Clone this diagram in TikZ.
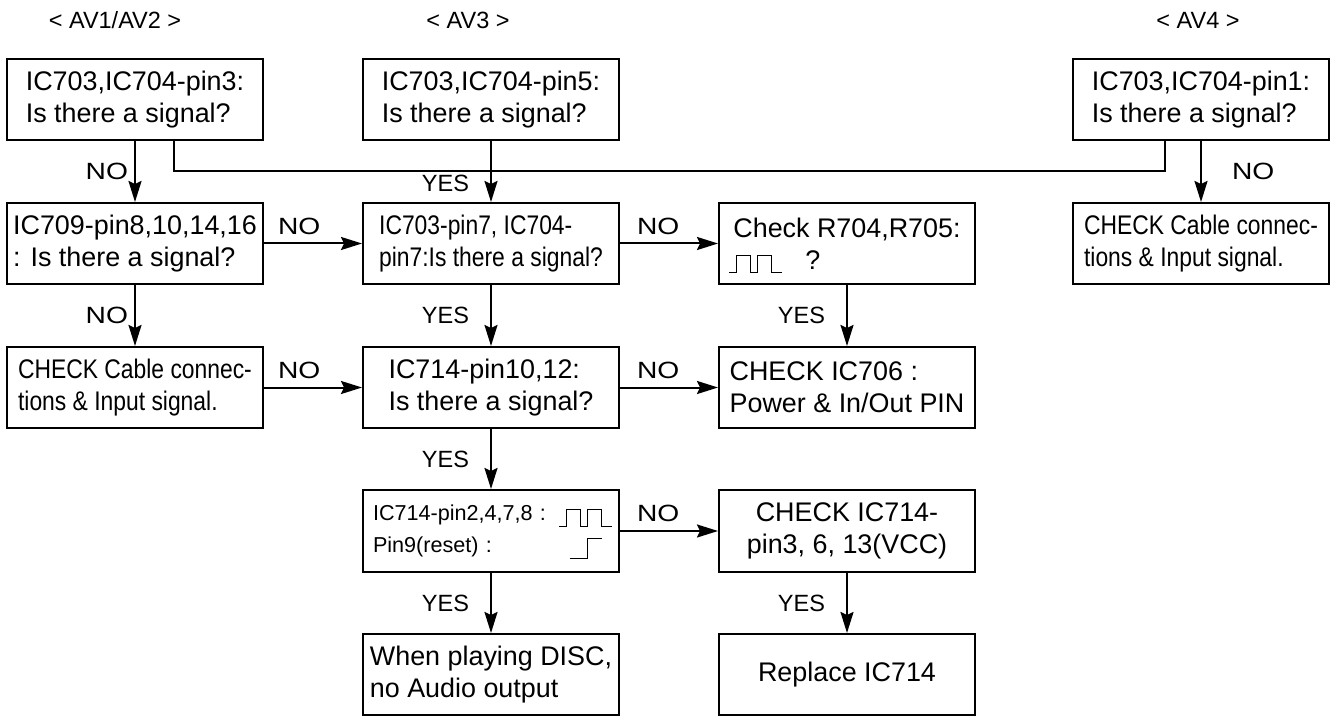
\documentclass[tikz,border=0pt]{standalone}
\usepackage{fontspec}
\setmainfont{Liberation Sans}
\newfontfamily\narrowfont[FakeStretch=0.85]{Liberation Sans}
\newfontfamily\widefont[FakeStretch=1.2]{Liberation Sans}
\usetikzlibrary{arrows.meta,positioning,calc}

% little pulse train, drawn from its lower left end
\newcommand\pulsetrain[1]{\draw[line width=0.5pt] (#1) -- ++(7,0) -- ++(0,-17) -- ++(14,0) -- ++(0,17) -- ++(7,0) -- ++(0,-17) -- ++(14,0) -- ++(0,17) -- ++(11,0);}

\begin{document}
\begin{tikzpicture}[x=0.5pt,y=-0.5pt,line width=1pt,
  >={Stealth[length=10.5pt,width=6.5pt,inset=1.5pt]},
  box/.style={draw,minimum width=128pt,minimum height=40.5pt,inner xsep=2pt,inner ysep=4pt,align=left,font=\fontsize{13.45pt}{16pt}\selectfont},
  narrow/.style={font=\narrowfont\fontsize{13.45pt}{16pt}\selectfont},
  lbl/.style={inner sep=2pt,font=\fontsize{11.75pt}{14pt}\selectfont},
  nofont/.style={lbl,font=\widefont\fontsize{11.75pt}{14pt}\selectfont},
  nolbl/.style={nofont,pos=0,anchor=south west,yshift=2pt}]
  \useasboundingbox (0,0) rectangle (1331,716);

  \node[lbl] (h1) at (115,20) {< AV1/AV2 >};
  \node[lbl] (h3) at (468,20) {< AV3 >};
  \node[lbl] (h4) at (1198,20) {< AV4 >};

  \node[box] (a1) at (135,99.5) {IC703,IC704-pin3:\\Is there a signal?};
  \node[box,right=49pt of a1] (a3) {IC703,IC704-pin5:\\Is there a signal?};
  \node[box,right=226pt of a3] (a4) {IC703,IC704-pin1:\\Is there a signal?};

  \node[box,below=30.5pt of a1] (b1) {IC709-pin8,10,14,16\\: Is there a signal?};
  \node[box,narrow,right=49pt of b1] (b2) {IC703-pin7, IC704-\\pin7:Is there a signal?};
  \node[box,right=49pt of b2] (b3) {Check R704,R705:\\\hspace*{36pt}?};
  \node[box,narrow,below=30.5pt of a4] (b4) {CHECK Cable connec-\\tions \& Input signal.};

  \node[box,narrow,below=30.5pt of b1] (c1) {CHECK Cable connec-\\tions \& Input signal.};
  \node[box,right=49pt of c1] (c2) {IC714-pin10,12:\\Is there a signal?};
  \node[box,right=49pt of c2] (c3) {CHECK IC706 :\\Power \& In/Out PIN};

  \node[box,below=30pt of c2,minimum height=41pt,text width=118pt,font=\fontsize{10.8pt}{16pt}\selectfont] (d2) {IC714-pin2,4,7,8 :\\Pin9(reset) :};
  \node[box,right=49pt of d2,minimum height=41pt,align=center] (d3) {CHECK IC714-\\pin3, 6, 13(VCC)};

  \node[box,below=30pt of d2] (e2) {When playing DISC,\\no Audio output};
  \node[box,below=30pt of d3] (e3) {Replace IC714};

  % waveforms
  \pulsetrain{$(b3.south west)+(11,-12)$}
  \pulsetrain{$(d2.south east)+(-61,-47)$}
  \draw[line width=0.5pt] ($(d2.south east)+(-50,-15)$) -- ++(17,0) -- ++(0,-20) -- ++(15,0);

  % AV1/AV2 and AV4 join the AV3 line
  \coordinate (bus) at ($(a3.south)!0.5!(b2.north)$);
  \coordinate (p1) at ($(a1.south west)!0.65!(a1.south east)$);
  \coordinate (p4) at ($(a4.south west)!0.36!(a4.south east)$);
  \draw (p1) |- (bus) -| (p4);

  \draw[->] (a1.south) -- node[nofont,left=1pt] (n1) {NO} (b1.north);
  \draw[->] (a3.south) -- node[lbl,pos=0.7,left=8.5pt] (y1) {YES} (b2.north);
  \draw[->] (a4.south) -- node[nofont,right=13pt] (n2) {NO} (b4.north);

  \draw[->] (b1.east) -- node[nolbl,xshift=4.5pt] (n3) {NO} (b2.west);
  \draw[->] (b2.east) -- node[nolbl,xshift=6pt] (n4) {NO} (b3.west);
  \draw[->] (b1.south) -- node[nofont,left=1pt] (n5) {NO} (c1.north);
  \draw[->] (b2.south) -- node[lbl,left=8.5pt] (y2) {YES} (c2.north);
  \draw[->] (b3.south) -- node[lbl,left=8.5pt] (y3) {YES} (c3.north);

  \draw[->] (c1.east) -- node[nolbl,xshift=4.5pt] (n6) {NO} (c2.west);
  \draw[->] (c2.east) -- node[nolbl,xshift=6pt] (n7) {NO} (c3.west);
  \draw[->] (c2.south) -- node[lbl,left=8.5pt] (y4) {YES} (d2.north);

  \draw[->] (d2.east) -- node[nolbl,xshift=6pt] (n8) {NO} (d3.west);
  \draw[->] (d2.south) -- node[lbl,left=8.5pt] (y5) {YES} (e2.north);
  \draw[->] (d3.south) -- node[lbl,left=8.5pt] (y6) {YES} (e3.north);
\end{tikzpicture}
\end{document}
